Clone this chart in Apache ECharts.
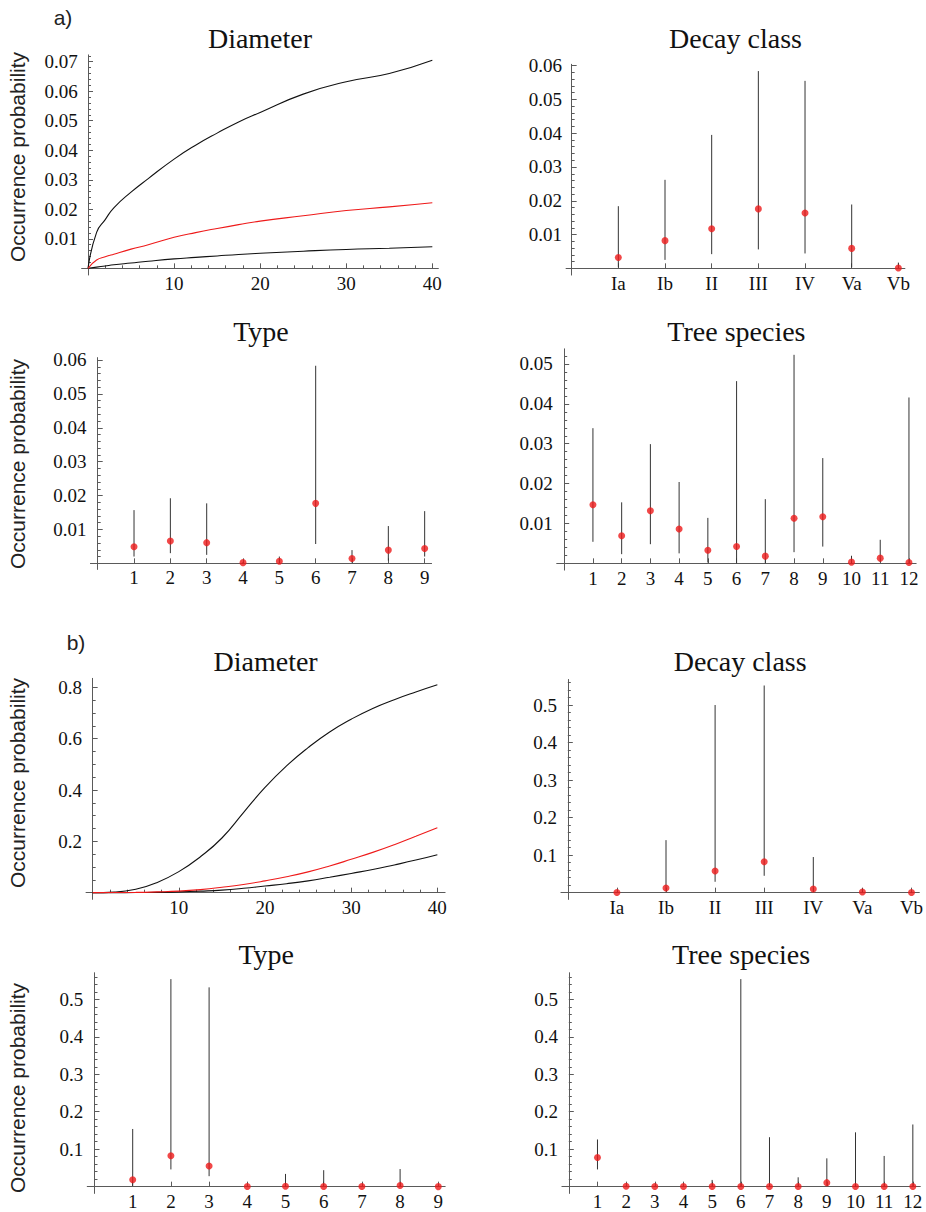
<!DOCTYPE html>
<html><head><meta charset="utf-8">
<script src="https://cdn.jsdelivr.net/npm/echarts@6/dist/echarts.min.js"></script>
<style>html,body{margin:0;padding:0;background:#fff}#c{width:926px;height:1212px}</style>
</head><body><div id="c"></div>
<script>
// ---------------- data ----------------
const decayCats = ['Ia', 'Ib', 'II', 'III', 'IV', 'Va', 'Vb'];
const typeCats = ['1', '2', '3', '4', '5', '6', '7', '8', '9'];
const treeCats = ['1', '2', '3', '4', '5', '6', '7', '8', '9', '10', '11', '12'];

// a) Diameter curves
const aDiamX     = [0, 1, 2, 3, 5, 7, 10, 12.5, 15, 17.5, 20, 25, 30, 35, 40];
const aDiamUpper = [0, 0.0122, 0.0165, 0.0205, 0.0258, 0.0304, 0.0370, 0.0417, 0.0458, 0.0496, 0.0528, 0.0590, 0.0632, 0.0660, 0.0705];
const aDiamMean  = [0, 0.0028, 0.0039, 0.0048, 0.0065, 0.0080, 0.0105, 0.0121, 0.0135, 0.0148, 0.0160, 0.0178, 0.0196, 0.0208, 0.0222];
const aDiamLower = [0, 0.0004, 0.0008, 0.0012, 0.0018, 0.0024, 0.0032, 0.0037, 0.0042, 0.0047, 0.0051, 0.0058, 0.0064, 0.0068, 0.0073];

// a) Decay class
const aDecayMean = [0.0032, 0.0082, 0.0117, 0.0176, 0.0164, 0.0059, 0.0001];
const aDecayLow  = [0.0003, 0.0025, 0.0042, 0.0056, 0.0044, 0.0003, 0];
const aDecayHigh = [0.0184, 0.0262, 0.0395, 0.0584, 0.0555, 0.0189, 0.0017];

// a) Type
const aTypeMean = [0.0049, 0.0066, 0.0061, 0.0002, 0.0006, 0.0177, 0.0014, 0.0039, 0.0044];
const aTypeLow  = [0.0020, 0.0030, 0.0025, 0, 0, 0.0057, 0.0002, 0.0008, 0.0020];
const aTypeHigh = [0.0157, 0.0192, 0.0177, 0.0004, 0.0020, 0.0583, 0.0039, 0.0110, 0.0154];

// a) Tree species
const aTreeMean = [0.0147, 0.0069, 0.0132, 0.0086, 0.0033, 0.0042, 0.0018, 0.0113, 0.0117, 0.0003, 0.0013, 0.0002];
const aTreeLow  = [0.0054, 0.0023, 0.0048, 0.0025, 0.0002, 0, 0, 0.0028, 0.0042, 0, 0.0003, 0];
const aTreeHigh = [0.0339, 0.0153, 0.0299, 0.0204, 0.0114, 0.0457, 0.0161, 0.0523, 0.0264, 0.0019, 0.0059, 0.0416];

// b) Diameter curves
const bDiamX     = [0, 2.5, 5, 7.5, 10, 12.5, 15, 17.5, 20, 22.5, 25, 27.5, 30, 32.5, 35, 37.5, 40];
const bDiamUpper = [0, 0.002, 0.013, 0.040, 0.082, 0.140, 0.213, 0.312, 0.410, 0.494, 0.565, 0.626, 0.676, 0.718, 0.752, 0.782, 0.810];
const bDiamMean  = [0, 0.0005, 0.001, 0.003, 0.006, 0.012, 0.021, 0.032, 0.046, 0.062, 0.081, 0.104, 0.130, 0.157, 0.187, 0.220, 0.253];
const bDiamLower = [0, 0.0002, 0.0005, 0.001, 0.003, 0.006, 0.010, 0.017, 0.026, 0.035, 0.046, 0.060, 0.075, 0.090, 0.108, 0.127, 0.148];

// b) Decay class
const bDecayMean = [0.0005, 0.0124, 0.0577, 0.0826, 0.0098, 0.0020, 0.0005];
const bDecayLow  = [0, 0.003, 0.029, 0.045, 0.003, 0.0005, 0];
const bDecayHigh = [0.001, 0.140, 0.500, 0.552, 0.095, 0.011, 0.002];

// b) Type
const bTypeMean = [0.0187, 0.0827, 0.0550, 0.0003, 0.0010, 0.0005, 0.0003, 0.0030, 0.0002];
const bTypeLow  = [0.002, 0.046, 0.028, 0, 0, 0, 0, 0, 0];
const bTypeHigh = [0.154, 0.554, 0.532, 0.001, 0.034, 0.044, 0.002, 0.047, 0.002];

// b) Tree species
const bTreeMean = [0.0778, 0.0010, 0.0005, 0.0005, 0.0005, 0.0003, 0.0003, 0.0003, 0.0107, 0.0003, 0.0003, 0.0003];
const bTreeLow  = [0.046, 0, 0, 0, 0, 0, 0, 0, 0.002, 0, 0, 0];
const bTreeHigh = [0.126, 0.003, 0.002, 0.002, 0.018, 0.554, 0.132, 0.025, 0.0756, 0.145, 0.082, 0.166];

// tick values
const aDiamYTicks = [0.01, 0.02, 0.03, 0.04, 0.05, 0.06, 0.07];
const aDecayYTicks = [0.01, 0.02, 0.03, 0.04, 0.05, 0.06];
const aTypeYTicks = [0.01, 0.02, 0.03, 0.04, 0.05, 0.06];
const aTreeYTicks = [0.01, 0.02, 0.03, 0.04, 0.05];
const bDiamYTicks = [0.2, 0.4, 0.6, 0.8];
const bCatYTicks = [0.1, 0.2, 0.3, 0.4, 0.5];
const diamXTicks = [10, 20, 30, 40];

// ---------------- helpers ----------------
const SERIF = '"Liberation Serif", "Times New Roman", serif';
const SANS = '"Liberation Sans", Arial, sans-serif';
const AXIS_COLOR = '#5a5a5a';
const RED = '#ee1a1a';

function range(a, b, step, dec) {
  const out = [];
  const n = Math.round((b - a) / step);
  for (let i = 0; i <= n; i++) out.push(+(a + i * step).toFixed(dec));
  return out;
}

const grids = [], xAxes = [], yAxes = [], series = [], graphics = [];

function addPanel(g) {
  const gi = grids.length;
  grids.push({
    left: g.x0 + g.xmin * g.sx,
    top: g.y0 - g.ymax * g.sy,
    width: (g.xmax - g.xmin) * g.sx,
    height: (g.ymax - g.ymin) * g.sy,
    containLabel: false,
    outerBoundsMode: 'none'
  });
  const xMajor = xAxes.length;
  const labelStyle = { fontFamily: SERIF, fontSize: 19, color: '#111' };
  xAxes.push({
    type: 'value', gridIndex: gi, min: g.xmin, max: g.xmax, position: 'bottom',
    splitLine: { show: false },
    axisLine: { onZero: true, lineStyle: { color: AXIS_COLOR, width: 1 } },
    axisTick: { inside: true, length: 5, lineStyle: { color: AXIS_COLOR }, customValues: g.xTicks },
    axisLabel: Object.assign({ customValues: g.xTicks, margin: -1, formatter: g.xFmt }, labelStyle)
  });
  xAxes.push({
    type: 'value', gridIndex: gi, min: g.xmin, max: g.xmax, position: 'bottom',
    splitLine: { show: false },
    axisLine: { show: false, onZero: true },
    axisTick: { show: !!g.xMinor, inside: true, length: 3, lineStyle: { color: AXIS_COLOR }, customValues: g.xMinor || [] },
    axisLabel: { show: false }
  });
  const yMajor = yAxes.length;
  yAxes.push({
    type: 'value', gridIndex: gi, min: g.ymin, max: g.ymax, position: 'left',
    splitLine: { show: false },
    axisLine: { onZero: true, lineStyle: { color: AXIS_COLOR, width: 1 } },
    axisTick: { inside: true, length: 5, lineStyle: { color: AXIS_COLOR }, customValues: g.yTicks },
    axisLabel: Object.assign({ customValues: g.yTicks, margin: 4, formatter: g.yFmt }, labelStyle)
  });
  yAxes.push({
    type: 'value', gridIndex: gi, min: g.ymin, max: g.ymax, position: 'left',
    splitLine: { show: false },
    axisLine: { show: false, onZero: true },
    axisTick: { inside: true, length: 3, lineStyle: { color: AXIS_COLOR }, customValues: g.yMinor },
    axisLabel: { show: false }
  });
  // title
  const cx = g.x0 + (g.xmin + g.xmax) / 2 * g.sx;
  graphics.push({
    type: 'text', x: cx, y: g.titleY,
    style: { text: g.title, font: '28px ' + SERIF, fill: '#111', align: 'center', verticalAlign: 'middle' }
  });
  return { xi: xMajor, yi: yMajor };
}

function addCurves(ax, xs, lists) {
  lists.forEach(([vals, color]) => {
    series.push({
      type: 'line', xAxisIndex: ax.xi, yAxisIndex: ax.yi,
      data: xs.map((x, i) => [x, vals[i]]),
      showSymbol: false, smooth: 0.5, silent: true,
      lineStyle: { color: color, width: 1.1 }, z: 5
    });
  });
}

function addErrPanel(ax, mean, low, high) {
  series.push({
    type: 'custom', xAxisIndex: ax.xi, yAxisIndex: ax.yi, silent: true,
    data: mean.map((m, i) => [i + 1, low[i], high[i]]),
    encode: { x: 0, y: [1, 2] },
    renderItem: function (params, api) {
      const p1 = api.coord([api.value(0), api.value(1)]);
      const p2 = api.coord([api.value(0), api.value(2)]);
      return {
        type: 'line',
        shape: { x1: p1[0], y1: p1[1], x2: p2[0], y2: p2[1] },
        style: { stroke: '#333', lineWidth: 1 }
      };
    },
    z: 4
  });
  series.push({
    type: 'scatter', xAxisIndex: ax.xi, yAxisIndex: ax.yi, silent: true,
    data: mean.map((m, i) => [i + 1, m]),
    symbolSize: 7, itemStyle: { color: RED }, z: 6
  });
}

const fmt2 = v => v.toFixed(2);
const fmt1 = v => v.toFixed(1);
const fmt0 = v => String(Math.round(v));
const catFmt = cats => v => cats[Math.round(v) - 1] || '';

// ---------------- panels ----------------
let ax;
ax = addPanel({ x0: 88, sx: 8.608, y0: 268.33, sy: 2952.4, xmin: -0.74, xmax: 40.7, ymin: -0.00226, ymax: 0.0723,
  xTicks: diamXTicks, xMinor: range(2, 38, 2, 0).filter(v => v % 10 !== 0), xFmt: fmt0,
  yTicks: aDiamYTicks, yMinor: range(0.002, 0.072, 0.002, 3).filter(v => Math.round(v * 1000) % 10 !== 0), yFmt: fmt2,
  title: 'Diameter', titleY: 38 });
addCurves(ax, aDiamX, [[aDiamUpper, '#111'], [aDiamLower, '#111'], [aDiamMean, RED]]);

ax = addPanel({ x0: 571.67, sx: 46.67, y0: 268.33, sy: 3377.8, xmin: -0.12, xmax: 7.14, ymin: -0.002, ymax: 0.0604,
  xTicks: [1, 2, 3, 4, 5, 6, 7], xFmt: catFmt(decayCats),
  yTicks: aDecayYTicks, yMinor: range(0.002, 0.06, 0.002, 3).filter(v => Math.round(v * 1000) % 10 !== 0), yFmt: fmt2,
  title: 'Decay class', titleY: 38 });
addErrPanel(ax, aDecayMean, aDecayLow, aDecayHigh);

ax = addPanel({ x0: 97.7, sx: 36.33, y0: 563.33, sy: 3389, xmin: -0.2, xmax: 9.19, ymin: -0.0018, ymax: 0.0607,
  xTicks: [1, 2, 3, 4, 5, 6, 7, 8, 9], xFmt: catFmt(typeCats),
  yTicks: aTypeYTicks, yMinor: range(0.002, 0.06, 0.002, 3).filter(v => Math.round(v * 1000) % 10 !== 0), yFmt: fmt2,
  title: 'Type', titleY: 331 });
addErrPanel(ax, aTypeMean, aTypeLow, aTypeHigh);

ax = addPanel({ x0: 564.2, sx: 28.73, y0: 563.33, sy: 3986.7, xmin: -0.26, xmax: 12.25, ymin: -0.0017, ymax: 0.0538,
  xTicks: [1, 2, 3, 4, 5, 6, 7, 8, 9, 10, 11, 12], xFmt: catFmt(treeCats),
  yTicks: aTreeYTicks, yMinor: range(0.002, 0.052, 0.002, 3).filter(v => Math.round(v * 1000) % 10 !== 0), yFmt: fmt2,
  title: 'Tree species', titleY: 331 });
addErrPanel(ax, aTreeMean, aTreeLow, aTreeHigh);

ax = addPanel({ x0: 92.67, sx: 8.617, y0: 892.67, sy: 256.67, xmin: -0.77, xmax: 40.9, ymin: -0.026, ymax: 0.835,
  xTicks: diamXTicks, xMinor: range(2, 38, 2, 0).filter(v => v % 10 !== 0), xFmt: fmt0,
  yTicks: bDiamYTicks, yMinor: range(0.05, 0.8, 0.05, 2).filter(v => Math.round(v * 100) % 20 !== 0), yFmt: fmt1,
  title: 'Diameter', titleY: 661 });
addCurves(ax, bDiamX, [[bDiamUpper, '#111'], [bDiamLower, '#111'], [bDiamMean, RED]]);

ax = addPanel({ x0: 567.8, sx: 49.1, y0: 892.67, sy: 375.3, xmin: -0.14, xmax: 7.16, ymin: -0.018, ymax: 0.568,
  xTicks: [1, 2, 3, 4, 5, 6, 7], xFmt: catFmt(decayCats),
  yTicks: bCatYTicks, yMinor: range(0.02, 0.56, 0.02, 2).filter(v => Math.round(v * 100) % 10 !== 0), yFmt: fmt1,
  title: 'Decay class', titleY: 661 });
addErrPanel(ax, bDecayMean, bDecayLow, bDecayHigh);

ax = addPanel({ x0: 94.5, sx: 38.2, y0: 1186.67, sy: 374.67, xmin: -0.19, xmax: 9.18, ymin: -0.018, ymax: 0.571,
  xTicks: [1, 2, 3, 4, 5, 6, 7, 8, 9], xFmt: catFmt(typeCats),
  yTicks: bCatYTicks, yMinor: range(0.02, 0.56, 0.02, 2).filter(v => Math.round(v * 100) % 10 !== 0), yFmt: fmt1,
  title: 'Type', titleY: 954 });
addErrPanel(ax, bTypeMean, bTypeLow, bTypeHigh);

ax = addPanel({ x0: 568.8, sx: 28.67, y0: 1186.67, sy: 374.67, xmin: -0.24, xmax: 12.26, ymin: -0.018, ymax: 0.571,
  xTicks: [1, 2, 3, 4, 5, 6, 7, 8, 9, 10, 11, 12], xFmt: catFmt(treeCats),
  yTicks: bCatYTicks, yMinor: range(0.02, 0.56, 0.02, 2).filter(v => Math.round(v * 100) % 10 !== 0), yFmt: fmt1,
  title: 'Tree species', titleY: 954 });
addErrPanel(ax, bTreeMean, bTreeLow, bTreeHigh);

// y-axis names and panel letters
[157, 464, 783, 1088].forEach(cy => {
  graphics.push({
    type: 'text', x: 17, y: cy, rotation: Math.PI / 2,
    style: { text: 'Occurrence probability', font: '21px ' + SANS, fill: '#222', align: 'center', verticalAlign: 'middle' }
  });
});
graphics.push({ type: 'text', x: 63, y: 17, style: { text: 'a)', font: '21px ' + SANS, fill: '#222', align: 'center', verticalAlign: 'middle' } });
graphics.push({ type: 'text', x: 76, y: 642, style: { text: 'b)', font: '21px ' + SANS, fill: '#222', align: 'center', verticalAlign: 'middle' } });

const chart = echarts.init(document.getElementById('c'), null, { renderer: 'svg', width: 926, height: 1212 });
chart.setOption({
  animation: false,
  backgroundColor: '#fff',
  grid: grids,
  xAxis: xAxes,
  yAxis: yAxes,
  series: series,
  graphic: graphics
});
</script></body></html>
